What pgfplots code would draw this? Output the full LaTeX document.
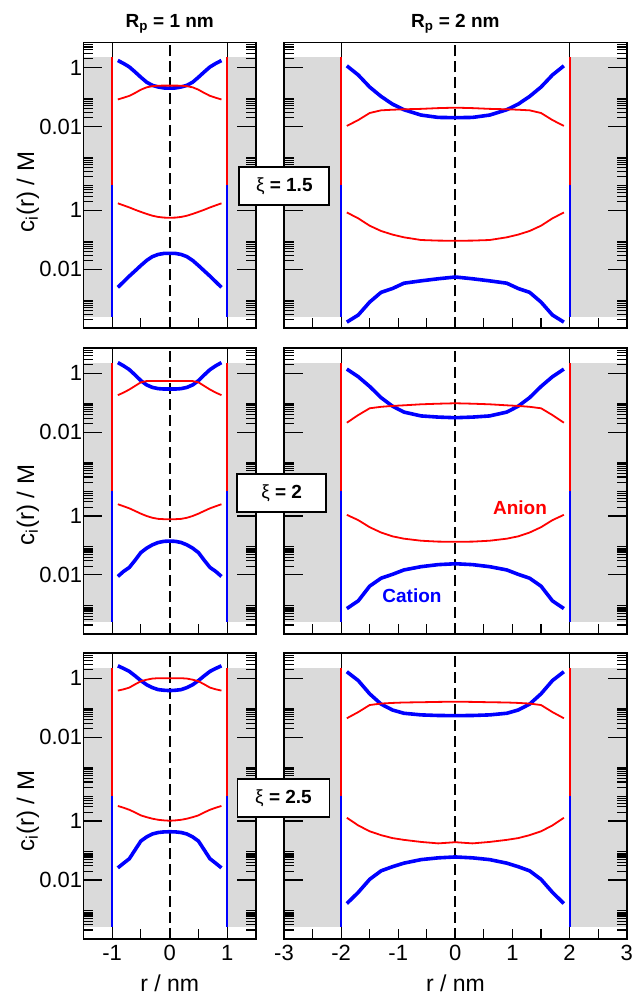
\documentclass[border=0pt]{standalone}
\usepackage{pgfplots}
\pgfplotsset{compat=1.18}
\usepackage{pgfplotstable}
\usepackage{fontspec}
\setmainfont{Liberation Sans}
\definecolor{wallgray}{RGB}{218,218,218}
\definecolor{cblue}{RGB}{0,0,255}
\definecolor{cred}{RGB}{255,0,0}

\pgfplotstableread{
x bu ru rl bl
-0.9 1.74 0.083 1.74 0.00245
-0.8 1.38 0.095 1.48 0.0038
-0.7 1.05 0.11 1.26 0.0059
-0.6 0.71 0.138 1.05 0.0089
-0.5 0.47 0.178 0.89 0.0135
-0.4 0.32 0.214 0.76 0.020
-0.3 0.25 0.234 0.66 0.027
-0.2 0.22 0.243 0.60 0.032
-0.1 0.204 0.245 0.57 0.0347
0 0.2 0.245 0.56 0.035
0.1 0.204 0.245 0.57 0.0347
0.2 0.22 0.243 0.60 0.032
0.3 0.25 0.234 0.66 0.027
0.4 0.32 0.214 0.76 0.020
0.5 0.47 0.178 0.89 0.0135
0.6 0.71 0.138 1.05 0.0089
0.7 1.05 0.11 1.26 0.0059
0.8 1.38 0.095 1.48 0.0038
0.9 1.74 0.083 1.74 0.00245
}\tabLa
\pgfplotstableread{
x bu ru rl bl
-0.9 2.29 0.18 2.51 0.0089
-0.8 1.78 0.22 2.14 0.0132
-0.7 1.32 0.28 1.82 0.018
-0.6 0.87 0.37 1.48 0.0316
-0.5 0.56 0.49 1.20 0.0575
-0.4 0.40 0.54 1.00 0.081
-0.3 0.33 0.54 0.87 0.105
-0.2 0.30 0.54 0.80 0.126
-0.1 0.29 0.54 0.78 0.138
0 0.29 0.54 0.77 0.141
0.1 0.29 0.54 0.78 0.138
0.2 0.30 0.54 0.80 0.126
0.3 0.33 0.54 0.87 0.105
0.4 0.40 0.54 1.00 0.081
0.5 0.56 0.49 1.20 0.0575
0.6 0.87 0.37 1.48 0.0316
0.7 1.32 0.28 1.82 0.018
0.8 1.78 0.22 2.14 0.0132
0.9 2.29 0.18 2.51 0.0089
}\tabLb
\pgfplotstableread{
x bu ru rl bl
-0.9 2.63 0.38 3.24 0.0257
-0.8 2.14 0.42 2.82 0.037
-0.7 1.70 0.48 2.40 0.0525
-0.6 1.20 0.62 1.95 0.105
-0.5 0.83 0.79 1.55 0.209
-0.4 0.60 0.89 1.35 0.288
-0.3 0.48 0.97 1.20 0.363
-0.2 0.41 1.00 1.10 0.407
-0.1 0.39 1.00 1.05 0.427
0 0.38 1.00 1.02 0.432
0.1 0.39 1.00 1.05 0.427
0.2 0.41 1.00 1.10 0.407
0.3 0.48 0.97 1.20 0.363
0.4 0.60 0.89 1.35 0.288
0.5 0.83 0.79 1.55 0.209
0.6 1.20 0.62 1.95 0.105
0.7 1.70 0.48 2.40 0.0525
0.8 2.14 0.42 2.82 0.037
0.9 2.63 0.38 3.24 0.0257
}\tabLc
\pgfplotstableread{
x bu ru rl bl
-1.9 1.148 0.0105 0.851 1.62e-4
-1.7 0.562 0.0166 0.537 2.82e-4
-1.5 0.219 0.0288 0.302 7.76e-4
-1.3 0.105 0.0355 0.200 1.66e-3
-1.1 0.0575 0.0372 0.151 2.24e-3
-0.9 0.0372 0.0385 0.122 3.39e-3
-0.6 0.0245 0.0398 0.0989 4.07e-3
-0.3 0.0204 0.0422 0.0944 4.79e-3
0 0.0200 0.0437 0.0933 5.50e-3
0.3 0.0204 0.0422 0.0944 4.79e-3
0.6 0.0245 0.0398 0.0989 4.07e-3
0.9 0.0372 0.0385 0.122 3.39e-3
1.1 0.0575 0.0372 0.151 2.24e-3
1.3 0.105 0.0355 0.200 1.66e-3
1.5 0.219 0.0288 0.302 7.76e-4
1.7 0.562 0.0166 0.537 2.82e-4
1.9 1.148 0.0105 0.851 1.62e-4
}\tabRa
\pgfplotstableread{
x bu ru rl bl
-1.9 1.38 0.0209 1.096 7.24e-4
-1.7 0.759 0.038 0.724 1.32e-3
-1.5 0.355 0.0646 0.417 4.17e-3
-1.3 0.148 0.0724 0.275 7.76e-3
-1.1 0.0759 0.0776 0.204 0.0105
-0.9 0.0479 0.0813 0.170 0.0148
-0.6 0.0355 0.0881 0.145 0.0191
-0.3 0.0324 0.0923 0.135 0.0224
0 0.0309 0.0955 0.134 0.024
0.3 0.0324 0.0923 0.135 0.0224
0.6 0.0355 0.0881 0.145 0.0191
0.9 0.0479 0.0813 0.170 0.0148
1.1 0.0759 0.0776 0.204 0.0105
1.3 0.148 0.0724 0.275 7.76e-3
1.5 0.355 0.0646 0.417 4.17e-3
1.7 0.759 0.038 0.724 1.32e-3
1.9 1.38 0.0209 1.096 7.24e-4
}\tabRb
\pgfplotstableread{
x bu ru rl bl
-1.9 1.66 0.0437 1.288 1.58e-3
-1.7 0.832 0.0708 0.708 3.8e-3
-1.5 0.295 0.123 0.447 0.0105
-1.3 0.132 0.138 0.331 0.0204
-1.1 0.0832 0.145 0.263 0.0282
-0.9 0.0646 0.150 0.229 0.0372
-0.6 0.0569 0.153 0.195 0.049
-0.3 0.0543 0.157 0.174 0.0562
0 0.0537 0.160 0.191 0.0603
0.3 0.0543 0.157 0.174 0.0562
0.6 0.0569 0.153 0.195 0.049
0.9 0.0646 0.150 0.229 0.0372
1.1 0.0832 0.145 0.263 0.0282
1.3 0.132 0.138 0.331 0.0204
1.5 0.295 0.123 0.447 0.0105
1.7 0.832 0.0708 0.708 3.8e-3
1.9 1.66 0.0437 1.288 1.58e-3
}\tabRc

\newif\ifylabels
\newif\ifxlabels
\def\xlabs{}
\def\mnrx{}
\def\topx{}
% #1 x, #2 y bottom, #3 y upper, #4 width, #5 xmax, #6 wall, #7 table, #8 major xticks
\newcommand{\panel}[8]{%
\begin{axis}[scale only axis, width=#4bp, height=285.6bp, at={(#1bp,#2bp)}, anchor=south west,
    xmin=-#5, xmax=#5, ymin=0, ymax=1, ytick=\empty,
    xtick={#8}, minor xtick/.expand once=\mnrx, xtick pos=left, axis on top,
    axis line style={line width=1.6bp},
    major tick length=10bp, minor tick length=10bp,
    every tick/.style={black, line width=1.1bp},
    tick label style={font=\fontsize{22bp}{25bp}\selectfont},
    xticklabel style={yshift=-3bp},
    xticklabel=\empty]
  \ifxlabels\pgfplotsset{xticklabels/.expand once=\xlabs}\fi
  \addplot[draw=none, fill=wallgray] coordinates {(-3,0.0406) (-#6,0.0406) (-#6,0.949) (-3,0.949)} -- cycle;
  \addplot[draw=none, fill=wallgray] coordinates {(3,0.0406) (#6,0.0406) (#6,0.949) (3,0.949)} -- cycle;
  \addplot[black, line width=1.1bp] coordinates {(-#6,0) (-#6,1)};
  \addplot[black, line width=1.1bp] coordinates {(#6,0) (#6,1)};
  \addplot[black, line width=2bp, dash pattern=on 11bp off 5bp] coordinates {(0,0) (0,1)};
\end{axis}
\begin{axis}[scale only axis, width=#4bp, height=142.8bp, at={(#1bp,#3bp)}, anchor=south west,
    xmin=-#5, xmax=#5, ymode=log, ymin=1e-4, ymax=7,
    axis line style={draw=none}, ytick={0.01,1},
    minor ytick={2e-4,3e-4,4e-4,5e-4,6e-4,7e-4,8e-4,9e-4,0.02,0.03,0.04,0.05,0.06,0.07,0.08,0.09,2,3,4,5,6,7},
    ytick pos=both, major tick length=19bp, minor tick length=10bp,
    every tick/.style={black, line width=1.1bp},
    tick label style={font=\fontsize{22bp}{25bp}\selectfont},
    yticklabel style={inner xsep=1bp},
    yticklabel=\empty,
    xtick=\empty, xtick pos=right, minor xtick/.expand once=\topx]
  \ifylabels\pgfplotsset{yticklabels={0.01,1}}\fi
  \addplot[cred, line width=2bp] coordinates {(-#6,2.24) (-#6,1e-4)};
  \addplot[cred, line width=2bp] coordinates {(#6,2.24) (#6,1e-4)};
  \addplot[cblue, line width=3.6bp, line join=round] table[x=x,y=bu]{#7};
  \addplot[cred, line width=1.8bp, line join=round] table[x=x,y=ru]{#7};
\end{axis}
\begin{axis}[scale only axis, width=#4bp, height=142.8bp, at={(#1bp,#2bp)}, anchor=south west,
    xmin=-#5, xmax=#5, ymode=log, ymin=1e-4, ymax=7,
    axis line style={draw=none}, ytick={0.01,1},
    minor ytick={2e-4,3e-4,4e-4,5e-4,6e-4,7e-4,8e-4,9e-4,0.02,0.03,0.04,0.05,0.06,0.07,0.08,0.09,2,3,4,5,6,7},
    ytick pos=both, major tick length=19bp, minor tick length=10bp,
    every tick/.style={black, line width=1.1bp},
    tick label style={font=\fontsize{22bp}{25bp}\selectfont},
    yticklabel style={inner xsep=1bp},
    yticklabel=\empty,
    xmajorticks=false, xminorticks=false]
  \ifylabels\pgfplotsset{yticklabels={0.01,1}}\fi
  \addplot[cblue, line width=2bp] coordinates {(-#6,7) (-#6,2.5e-4)};
  \addplot[cblue, line width=2bp] coordinates {(#6,7) (#6,2.5e-4)};
  \addplot[cred, line width=1.8bp, line join=round] table[x=x,y=rl]{#7};
  \addplot[cblue, line width=3.6bp, line join=round] table[x=x,y=bl]{#7};
\end{axis}
}

\begin{document}
\begin{tikzpicture}
\useasboundingbox (0,0) rectangle (634bp,996bp);
% left column
\ylabelstrue
\def\mnrx{{-1.5,-0.5,0.5,1.5}}
\def\topx{{-1.5,-1,-0.5,0,0.5,1,1.5}}
\xlabelsfalse
\panel{83.3}{667.7}{810.5}{172.7}{1.5}{1}{\tabLa}{-1,0,1}
\panel{83.3}{362.1}{504.9}{172.7}{1.5}{1}{\tabLb}{-1,0,1}
\xlabelstrue
\def\xlabs{{-1,0,1}}
\panel{83.3}{57.1}{199.9}{172.7}{1.5}{1}{\tabLc}{-1,0,1}
% right column
\ylabelsfalse
\def\mnrx{{-2.5,-1.5,-0.5,0.5,1.5,2.5}}
\def\topx{{-3,-2.5,-2,-1.5,-1,-0.5,0,0.5,1,1.5,2,2.5,3}}
\xlabelsfalse
\panel{284}{667.7}{810.5}{342.7}{3}{2}{\tabRa}{-3,-2,-1,0,1,2,3}
\panel{284}{362.1}{504.9}{342.7}{3}{2}{\tabRb}{-3,-2,-1,0,1,2,3}
\xlabelstrue
\def\xlabs{{-3,-2,-1,0,1,2,3}}
\panel{284}{57.1}{199.9}{342.7}{3}{2}{\tabRc}{-3,-2,-1,0,1,2,3}

\node[font=\bfseries\fontsize{19bp}{22bp}\selectfont, anchor=base] at (169.7bp,968.3bp) {R\textsubscript{p} = 1 nm};
\node[font=\bfseries\fontsize{19bp}{22bp}\selectfont, anchor=base] at (455.4bp,968.3bp) {R\textsubscript{p} = 2 nm};

\foreach \yy in {804,491,185} {
  \node[rotate=90, font=\fontsize{24bp}{28bp}\selectfont] at (28bp,\yy bp) {c\textsubscript{i}(r) / M};
}
\node[font=\fontsize{23bp}{26bp}\selectfont, inner sep=0pt, anchor=base] at (169.7bp,5bp) {r / nm};
\node[font=\fontsize{23bp}{26bp}\selectfont, inner sep=0pt, anchor=base] at (455.4bp,5bp) {r / nm};

\node[draw, line width=1.8bp, fill=white, minimum width=90bp, minimum height=38bp, inner sep=0pt, font=\fontsize{19bp}{22bp}\selectfont] at (284.3bp,810bp) {ξ\textbf{ = 1.5}};
\node[draw, line width=1.8bp, fill=white, minimum width=89bp, minimum height=38bp, inner sep=0pt, font=\fontsize{19bp}{22bp}\selectfont] at (281.7bp,503bp) {ξ\textbf{ = 2}};
\node[draw, line width=1.8bp, fill=white, minimum width=92bp, minimum height=38bp, inner sep=0pt, font=\fontsize{19bp}{22bp}\selectfont] at (283.5bp,198bp) {ξ\textbf{ = 2.5}};

\node[text=cred, font=\bfseries\fontsize{19bp}{22bp}\selectfont] at (520bp,488bp) {Anion};
\node[text=cblue, font=\bfseries\fontsize{19bp}{22bp}\selectfont] at (412bp,400bp) {Cation};
\end{tikzpicture}
\end{document}
